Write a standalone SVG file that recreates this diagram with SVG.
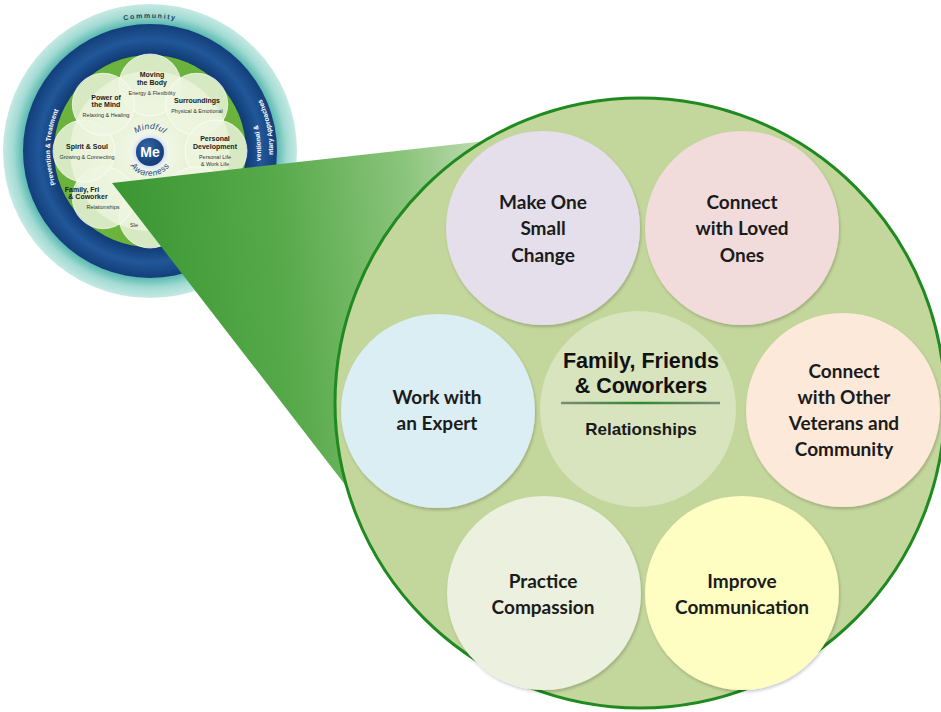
<svg xmlns="http://www.w3.org/2000/svg" xmlns:xlink="http://www.w3.org/1999/xlink" width="941" height="712" viewBox="0 0 941 712">
<defs>
<style>
.lbl{font-family:Lato,"Liberation Sans",sans-serif;font-weight:700;font-size:19px;fill:#1b1b1b;text-anchor:middle}
.ptitle{font-family:"Liberation Sans",Arial,sans-serif;font-weight:700;font-size:7px;fill:#1a1a1a;text-anchor:middle}
.psub{font-family:"Liberation Sans Narrow","Liberation Sans",sans-serif;font-size:5.5px;fill:#333;text-anchor:middle}
.ring{font-family:"Liberation Sans",Arial,sans-serif;font-weight:700;font-size:6.8px;fill:#ffffff}
.petal{fill:#eef5e0;fill-opacity:0.82;stroke:#ffffff;stroke-opacity:0.7;stroke-width:1}
.small{filter:url(#sh)}
</style>
<filter id="sh" x="-10%" y="-10%" width="120%" height="120%">
<feDropShadow dx="1" dy="2" stdDeviation="1.6" flood-color="#000" flood-opacity="0.2"/>
</filter>
<radialGradient id="teal" cx="150" cy="151" r="147" gradientUnits="userSpaceOnUse">
<stop offset="0.86" stop-color="#58b8b0"/>
<stop offset="0.93" stop-color="#a2dbd3"/>
<stop offset="1" stop-color="#c6e9e4"/>
</radialGradient>
<radialGradient id="blue" cx="150" cy="151" r="128" gradientUnits="userSpaceOnUse">
<stop offset="0.74" stop-color="#0f3871"/>
<stop offset="0.87" stop-color="#215799"/>
<stop offset="1" stop-color="#123d78"/>
</radialGradient>
<radialGradient id="inner" cx="150" cy="151" r="82" gradientUnits="userSpaceOnUse">
<stop offset="0" stop-color="#f6faee"/>
<stop offset="0.6" stop-color="#e6f0d3"/>
<stop offset="1" stop-color="#c9e0a6"/>
</radialGradient>
<radialGradient id="me" cx="147" cy="147" r="16" gradientUnits="userSpaceOnUse">
<stop offset="0" stop-color="#3466a8"/>
<stop offset="1" stop-color="#17407c"/>
</radialGradient>
<radialGradient id="halo" cx="150" cy="152" r="22" gradientUnits="userSpaceOnUse">
<stop offset="0.6" stop-color="#c9d8ee"/>
<stop offset="1" stop-color="#ffffff" stop-opacity="0"/>
</radialGradient>
<linearGradient id="cone" x1="112" y1="183" x2="480" y2="150" gradientUnits="userSpaceOnUse">
<stop offset="0" stop-color="#3a9632"/>
<stop offset="0.45" stop-color="#58aa4b"/>
<stop offset="0.8" stop-color="#8cc57d"/>
<stop offset="1" stop-color="#bddaad"/>
</linearGradient>
<linearGradient id="uline" x1="561" y1="0" x2="720" y2="0" gradientUnits="userSpaceOnUse">
<stop offset="0" stop-color="#7f8a7a"/>
<stop offset="0.5" stop-color="#2f8a2a"/>
<stop offset="1" stop-color="#7f8a7a"/>
</linearGradient>
<path id="pComm" d="M 25 105.5 A 133 133 0 0 1 275 105.5"/>
<path id="pPrev" d="M 94.4 234.2 A 100 100 0 0 1 50 151 A 100 100 0 0 1 94.4 67.8"/>
<path id="pConv" d="M 205.5 247.1 A 111 111 0 0 0 257.8 124.7"/>
<path id="pComp" d="M 211.5 257.5 A 123 123 0 0 0 261.5 99"/>
<path id="pMind" d="M 127 152 A 23 23 0 0 1 173 152"/>
<path id="pAware" d="M 126 152 A 24 24 0 0 0 174 152"/>
</defs>
<rect x="0" y="0" width="941" height="712" fill="#ffffff"/>

<g id="wheel">
<circle cx="150" cy="151" r="147" fill="url(#teal)"/>
<circle cx="150" cy="151" r="127" fill="url(#blue)"/>
<circle cx="150" cy="151" r="96" fill="#6cb33e"/>
<circle cx="150" cy="151" r="80" fill="url(#inner)"/>
<circle class="petal" cx="150" cy="85" r="31"/>
<circle class="petal" cx="196.7" cy="104.3" r="31"/>
<circle class="petal" cx="216" cy="151" r="31"/>
<circle class="petal" cx="196.7" cy="197.7" r="31"/>
<circle class="petal" cx="150" cy="217" r="31"/>
<circle class="petal" cx="103.3" cy="197.7" r="31"/>
<circle class="petal" cx="84" cy="151" r="31"/>
<circle class="petal" cx="103.3" cy="104.3" r="31"/>
<circle cx="150" cy="152" r="21" fill="url(#halo)"/>
<circle cx="150" cy="152" r="14" fill="url(#me)"/>
<text x="150" y="157" font-family="Liberation Sans,Arial,sans-serif" font-weight="700" font-size="14" fill="#ffffff" text-anchor="middle">Me</text>
<text font-family="Liberation Sans,Arial,sans-serif" font-style="italic" font-size="8.5" fill="#1d4a80" letter-spacing="0.4"><textPath href="#pMind" startOffset="50%" text-anchor="middle">Mindful</textPath></text>
<text font-family="Liberation Sans,Arial,sans-serif" font-style="italic" font-size="8.5" fill="#1d4a80" letter-spacing="0.4"><textPath href="#pAware" startOffset="50%" text-anchor="middle">Awareness</textPath></text>
<text font-family="Liberation Sans,Arial,sans-serif" font-weight="700" font-size="7" fill="#1e3f5e" letter-spacing="1.6"><textPath href="#pComm" startOffset="50%" text-anchor="middle">Community</textPath></text>
<text class="ring"><textPath href="#pPrev" startOffset="52%" text-anchor="middle">Prevention &amp; Treatment</textPath></text>
<text class="ring"><textPath href="#pConv" startOffset="100%" text-anchor="end">ventional &amp;</textPath></text>
<text class="ring"><textPath href="#pComp" startOffset="100%" text-anchor="end">ntary Approaches</textPath></text>
<text class="ptitle" x="152" y="77">Moving</text>
<text class="ptitle" x="152" y="85">the Body</text>
<text class="psub" x="152" y="95">Energy &amp; Flexibility</text>
<text class="ptitle" x="106" y="100">Power of</text>
<text class="ptitle" x="106" y="107">the Mind</text>
<text class="psub" x="106" y="117">Relaxing &amp; Healing</text>
<text class="ptitle" x="197" y="103">Surroundings</text>
<text class="psub" x="197" y="113">Physical &amp; Emotional</text>
<text class="ptitle" x="87" y="149">Spirit &amp; Soul</text>
<text class="psub" x="87" y="159">Growing &amp; Connecting</text>
<text class="ptitle" x="215" y="141">Personal</text>
<text class="ptitle" x="215" y="149">Development</text>
<text class="psub" x="215" y="159">Personal Life</text>
<text class="psub" x="215" y="166">&amp; Work Life</text>
<text class="ptitle" x="82" y="192" text-anchor="start">Family, Fri</text>
<text class="ptitle" x="88" y="199" text-anchor="start">&amp; Coworker</text>
<text class="psub" x="103" y="209">Relationships</text>
<text class="psub" x="134" y="227" text-anchor="start">Sle</text>
</g>

<g id="connectors">
<polygon points="112,183 520,137 370,517" fill="url(#cone)"/>
</g>

<g id="focus-circle">
<circle cx="640" cy="403" r="305" fill="#c3d69b" stroke="#1f8a1f" stroke-width="3"/>
</g>

<g id="node-center">
<circle cx="638" cy="409" r="98" fill="#d7e4bd"/>
<text x="641" y="368" font-family="Liberation Sans,Arial,sans-serif" font-weight="700" font-size="21.5" fill="#111" text-anchor="middle">Family, Friends</text>
<text x="641" y="393" font-family="Liberation Sans,Arial,sans-serif" font-weight="700" font-size="21.5" fill="#111" text-anchor="middle">&amp; Coworkers</text>
<line x1="561" y1="403" x2="720" y2="403" stroke="url(#uline)" stroke-width="2.5"/>
<text x="641" y="435" font-family="Liberation Sans,Arial,sans-serif" font-weight="700" font-size="17" fill="#1a1a1a" text-anchor="middle">Relationships</text>
</g>

<g id="node-make-one-small-change">
<circle class="small" cx="543" cy="228" r="97" fill="#e5dfec"/>
<text class="lbl" x="543" y="209">Make One</text>
<text class="lbl" x="543" y="235">Small</text>
<text class="lbl" x="543" y="262">Change</text>
</g>

<g id="node-connect-loved-ones">
<circle class="small" cx="742" cy="228" r="97" fill="#f2dcdb"/>
<text class="lbl" x="742" y="209">Connect</text>
<text class="lbl" x="742" y="235">with Loved</text>
<text class="lbl" x="742" y="262">Ones</text>
</g>

<g id="node-work-with-expert">
<circle class="small" cx="438" cy="411" r="97" fill="#dbeef4"/>
<text class="lbl" x="437" y="404">Work with</text>
<text class="lbl" x="437" y="430">an Expert</text>
</g>

<g id="node-connect-veterans">
<circle class="small" cx="843" cy="410" r="97" fill="#fde9d9"/>
<text class="lbl" x="844" y="378">Connect</text>
<text class="lbl" x="844" y="404">with Other</text>
<text class="lbl" x="844" y="430">Veterans and</text>
<text class="lbl" x="844" y="456">Community</text>
</g>

<g id="node-practice-compassion">
<circle class="small" cx="544" cy="593" r="97" fill="#ebf1de"/>
<text class="lbl" x="543" y="588">Practice</text>
<text class="lbl" x="543" y="614">Compassion</text>
</g>

<g id="node-improve-communication">
<circle class="small" cx="742" cy="593" r="97" fill="#fefdc2"/>
<text class="lbl" x="742" y="588">Improve</text>
<text class="lbl" x="742" y="614">Communication</text>
</g>
</svg>
